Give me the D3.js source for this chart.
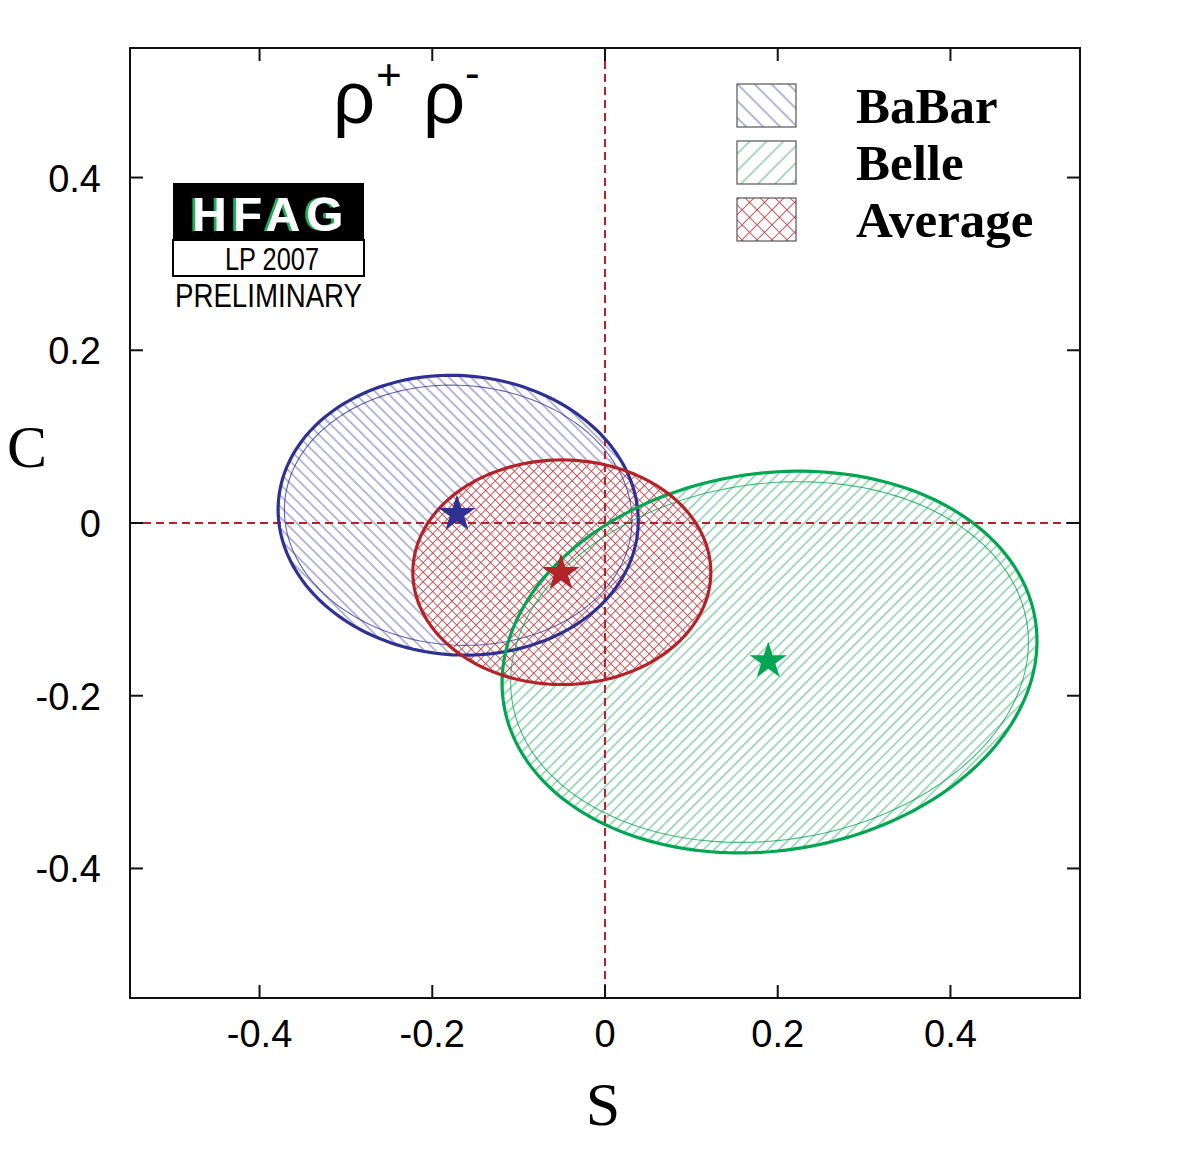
<!DOCTYPE html>
<html>
<head>
<meta charset="utf-8">
<script src="https://cdn.jsdelivr.net/npm/d3@7"></script>
<style>
  body { margin: 0; background: #fff; }
  svg { display: block; }
</style>
</head>
<body>
<svg id="chart"></svg>
<script>
// experiments and their ellipse parameters (S = x, C = y)
const experiments = ["BaBar", "Belle", "Average"];
const centerS = [-0.170, 0.1905, -0.050];
const centerC = [0.009, -0.161, -0.057];
const halfWidthS = [0.2085, 0.3097, 0.1725];
const halfHeightC = [0.162, 0.221, 0.130];
const correlation = [-0.04, 0.11, 0.0];
// inner thin contour relative size (null = no inner contour)
const innerScaleS = [0.965, 0.968, null];
const innerScaleC = [0.93, 0.945, null];
// central values (stars)
const starS = [-0.1714, 0.189, -0.051];
const starC = [0.0104, -0.160, -0.058];

const tickValues = [-0.4, -0.2, 0, 0.2, 0.4];
const tickLabels = ["-0.4", "-0.2", "0", "0.2", "0.4"];

const lineColors = ["#2e3192", "#00a651", "#b5232a"];
const hatchColors = ["#5a5da8", "#3aac72", "#c24a50"];

window.onload = function () {
  const width = 1200, height = 1152;
  const svg = d3.select("#chart").attr("width", width).attr("height", height);

  const x = d3.scaleLinear().domain([-0.55, 0.55]).range([130, 1080]);
  const y = d3.scaleLinear().domain([-0.55, 0.55]).range([998, 48]);

  const defs = svg.append("defs");

  // hatch patterns: rotated vertical lines (and horizontal ones for crosshatch)
  const makeHatch = (id, color, spacing, angle, cross) => {
    const p = defs.append("pattern")
      .attr("id", id)
      .attr("patternUnits", "userSpaceOnUse")
      .attr("width", spacing)
      .attr("height", spacing)
      .attr("patternTransform", `rotate(${angle})`);
    p.append("line")
      .attr("x1", spacing / 2).attr("y1", 0)
      .attr("x2", spacing / 2).attr("y2", spacing)
      .attr("stroke", color).attr("stroke-width", 0.9);
    if (cross) {
      p.append("line")
        .attr("x1", 0).attr("y1", spacing / 2)
        .attr("x2", spacing).attr("y2", spacing / 2)
        .attr("stroke", color).attr("stroke-width", 0.9);
    }
  };
  makeHatch("hatch0", hatchColors[0], 7.8, -45, false);
  makeHatch("hatch1", hatchColors[1], 7.6, 45, false);
  makeHatch("hatch2", hatchColors[2], 6.8, 45, true);
  makeHatch("legHatch0", hatchColors[0], 12, -45, false);
  makeHatch("legHatch1", hatchColors[1], 12, 45, false);
  makeHatch("legHatch2", hatchColors[2], 10.6, 45, true);

  // green offset shadow for the logo letters
  const shadow = defs.append("filter").attr("id", "greenShadow")
    .attr("x", "-20%").attr("y", "-20%").attr("width", "140%").attr("height", "140%");
  shadow.append("feFlood").attr("flood-color", "#1db35c").attr("result", "flood");
  shadow.append("feComposite").attr("in", "flood").attr("in2", "SourceAlpha")
    .attr("operator", "in").attr("result", "green");
  shadow.append("feOffset").attr("in", "green").attr("dx", -3).attr("dy", 0).attr("result", "off");
  const merge = shadow.append("feMerge");
  merge.append("feMergeNode").attr("in", "off");
  merge.append("feMergeNode").attr("in", "SourceGraphic");

  // ellipse point generator
  const ellipsePoints = (i, ks, kc) => {
    const a = halfWidthS[i] * ks, b = halfHeightC[i] * kc, r = correlation[i];
    return d3.range(0, 200).map((k) => {
      const t = (k / 200) * 2 * Math.PI;
      return [
        centerS[i] + a * Math.cos(t),
        centerC[i] + b * (r * Math.cos(t) + Math.sqrt(1 - r * r) * Math.sin(t)),
      ];
    });
  };
  const line = d3.line()
    .x((d) => x(d[0]))
    .y((d) => y(d[1]))
    .curve(d3.curveLinearClosed);

  // fills
  experiments.forEach((e, i) => {
    const pts = ellipsePoints(i, 1, 1);
    if (e === "Average") {
      svg.append("path").attr("d", line(pts)).attr("fill", "white");
    }
    svg.append("path").attr("d", line(pts)).attr("fill", `url(#hatch${i})`);
  });

  // zero lines
  svg.append("line")
    .attr("x1", x(-0.55)).attr("x2", x(0.55))
    .attr("y1", y(0)).attr("y2", y(0))
    .attr("stroke", "#b5232a").attr("stroke-width", 2)
    .attr("stroke-dasharray", "8,5");
  svg.append("line")
    .attr("x1", x(0)).attr("x2", x(0))
    .attr("y1", y(0.55)).attr("y2", y(-0.55))
    .attr("stroke", "#b5232a").attr("stroke-width", 2)
    .attr("stroke-dasharray", "8,5");

  // contours
  experiments.forEach((e, i) => {
    if (innerScaleS[i] !== null) {
      svg.append("path")
        .attr("d", line(ellipsePoints(i, innerScaleS[i], innerScaleC[i])))
        .attr("fill", "none")
        .attr("stroke", lineColors[i])
        .attr("stroke-width", 1.1)
        .attr("stroke-opacity", 0.75);
    }
    svg.append("path")
      .attr("d", line(ellipsePoints(i, 1, 1)))
      .attr("fill", "none")
      .attr("stroke", lineColors[i])
      .attr("stroke-width", 3.2);
  });

  // stars
  const star = d3.symbol().type(d3.symbolStar).size(430);
  experiments.forEach((e, i) => {
    svg.append("path")
      .attr("d", star())
      .attr("transform", `translate(${x(starS[i])},${y(starC[i])})`)
      .attr("fill", lineColors[i]);
  });

  // frame
  svg.append("rect")
    .attr("x", x(-0.55)).attr("y", y(0.55))
    .attr("width", x(0.55) - x(-0.55))
    .attr("height", y(-0.55) - y(0.55))
    .attr("fill", "none").attr("stroke", "#111").attr("stroke-width", 2);

  // inward ticks on all four sides
  const tk = 13;
  tickValues.forEach((v) => {
    svg.append("line").attr("x1", x(v)).attr("x2", x(v))
      .attr("y1", y(-0.55)).attr("y2", y(-0.55) - tk)
      .attr("stroke", "#111").attr("stroke-width", 2);
    svg.append("line").attr("x1", x(v)).attr("x2", x(v))
      .attr("y1", y(0.55)).attr("y2", y(0.55) + tk)
      .attr("stroke", "#111").attr("stroke-width", 2);
    svg.append("line").attr("y1", y(v)).attr("y2", y(v))
      .attr("x1", x(-0.55)).attr("x2", x(-0.55) + tk)
      .attr("stroke", "#111").attr("stroke-width", 2);
    svg.append("line").attr("y1", y(v)).attr("y2", y(v))
      .attr("x1", x(0.55)).attr("x2", x(0.55) - tk)
      .attr("stroke", "#111").attr("stroke-width", 2);
  });

  // tick labels
  svg.selectAll(".xlab")
    .data(tickValues)
    .enter()
    .append("text")
    .attr("x", (d) => x(d))
    .attr("y", 1047)
    .attr("text-anchor", "middle")
    .attr("font-family", "Liberation Sans, Arial, sans-serif")
    .attr("font-size", 38)
    .text((d, i) => tickLabels[i]);

  svg.selectAll(".ylab")
    .data(tickValues)
    .enter()
    .append("text")
    .attr("x", 101)
    .attr("y", (d) => y(d) + 14)
    .attr("text-anchor", "end")
    .attr("font-family", "Liberation Sans, Arial, sans-serif")
    .attr("font-size", 38)
    .text((d, i) => tickLabels[i]);

  // axis titles
  svg.append("text")
    .attr("x", 603).attr("y", 1125)
    .attr("text-anchor", "middle")
    .attr("font-family", "Liberation Serif, serif")
    .attr("font-size", 62)
    .text("S");
  svg.append("text")
    .attr("x", 27).attr("y", 467)
    .attr("text-anchor", "middle")
    .attr("font-family", "Liberation Serif, serif")
    .attr("font-size", 60)
    .text("C");

  // title rho+ rho-
  const titleFont = "Liberation Sans, Arial, sans-serif";
  svg.append("text").attr("x", 333).attr("y", 123)
    .attr("font-family", titleFont).attr("font-size", 74).text("ρ");
  svg.append("text").attr("x", 376).attr("y", 90)
    .attr("font-family", titleFont).attr("font-size", 44).text("+");
  svg.append("text").attr("x", 423).attr("y", 123)
    .attr("font-family", titleFont).attr("font-size", 74).text("ρ");
  svg.append("text").attr("x", 465).attr("y", 88)
    .attr("font-family", titleFont).attr("font-size", 44).text("-");

  // HFAG logo
  svg.append("rect")
    .attr("x", 173).attr("y", 183).attr("width", 191).attr("height", 57)
    .attr("fill", "black");
  svg.append("rect")
    .attr("x", 173).attr("y", 240).attr("width", 191).attr("height", 36)
    .attr("fill", "white").attr("stroke", "black").attr("stroke-width", 2);
  svg.append("text").attr("x", 271).attr("y", 231)
    .attr("text-anchor", "middle")
    .attr("font-family", "Liberation Sans, Arial, sans-serif")
    .attr("font-weight", "bold").attr("font-size", 48)
    .attr("letter-spacing", 6)
    .attr("fill", "white")
    .attr("filter", "url(#greenShadow)")
    .text("HFAG");
  svg.append("text").attr("x", 225).attr("y", 270)
    .attr("font-family", "Liberation Sans, Arial, sans-serif")
    .attr("font-size", 32)
    .attr("textLength", 94).attr("lengthAdjust", "spacingAndGlyphs")
    .text("LP 2007");
  svg.append("text").attr("x", 175).attr("y", 307)
    .attr("font-family", "Liberation Sans, Arial, sans-serif")
    .attr("font-size", 34)
    .attr("textLength", 187).attr("lengthAdjust", "spacingAndGlyphs")
    .text("PRELIMINARY");

  // legend
  const legendTop = [84, 141, 198];
  const legendBase = [123, 180, 237];
  experiments.forEach((e, i) => {
    svg.append("rect")
      .attr("x", 737).attr("y", legendTop[i])
      .attr("width", 59).attr("height", 43)
      .attr("fill", "white");
    svg.append("rect")
      .attr("x", 737).attr("y", legendTop[i])
      .attr("width", 59).attr("height", 43)
      .attr("fill", `url(#legHatch${i})`)
      .attr("stroke", "#555").attr("stroke-width", 1.2);
    svg.append("text")
      .attr("x", 856).attr("y", legendBase[i])
      .attr("font-family", "Liberation Serif, 'Times New Roman', serif")
      .attr("font-weight", "bold")
      .attr("font-size", 51)
      .text(e);
  });
};
</script>
</body>
</html>
